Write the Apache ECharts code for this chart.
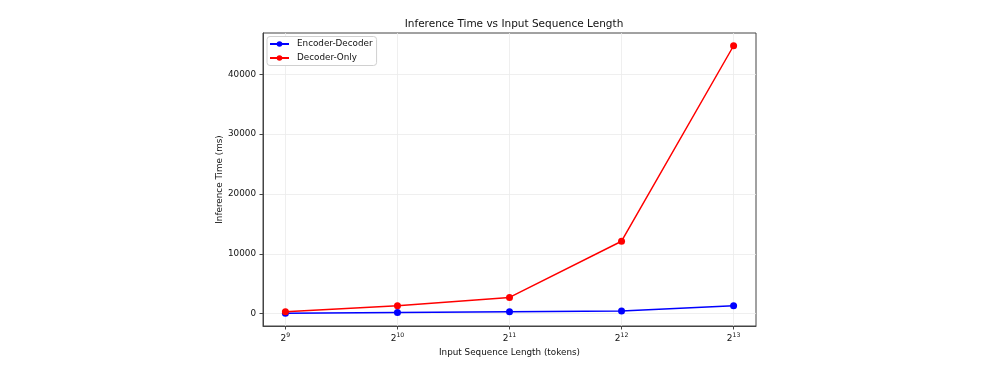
<!DOCTYPE html>
<html>
<head>
<meta charset="utf-8">
<script src="https://cdn.jsdelivr.net/npm/echarts@6/dist/echarts.min.js"></script>
<style>html,body{margin:0;padding:0;background:#fff;}#c{width:1000px;height:372px;}</style>
</head>
<body>
<div id="c"></div>
<script>
const seqLengths = [512, 1024, 2048, 4096, 8192];
const xTickExponents = [9, 10, 11, 12, 13];
const yTicks = [0, 10000, 20000, 30000, 40000];
const encoderDecoder = [100, 220, 335, 450, 1340];
const decoderOnly = [330, 1340, 2730, 12110, 44770];

const font = 'DejaVu Sans';
const chart = echarts.init(document.getElementById('c'), null, {renderer: 'canvas'});
const toPts = arr => arr.map((v, i) => [Math.log2(seqLengths[i]), v]);

chart.setOption({
  animation: false,
  backgroundColor: '#fff',
  textStyle: {fontFamily: font},
  title: {
    text: 'Inference Time vs Input Sequence Length',
    left: 509, top: 14, textAlign: 'center',
    textStyle: {fontFamily: font, fontSize: 10.5, fontWeight: 'normal', color: '#111'}
  },
  legend: {
    left: 267, top: 36.5, orient: 'vertical',
    itemWidth: 19, itemHeight: 7, itemGap: 5,
    padding: [3, 4, 3, 2],
    backgroundColor: '#fff', borderColor: '#d0d0d0', borderWidth: 1, borderRadius: 3,
    textStyle: {fontFamily: font, fontSize: 8.8, color: '#111', padding: [0, 0, 0, 3]},
    data: ['Encoder-Decoder', 'Decoder-Only']
  },
  grid: {left: 263, right: 244, top: 33, bottom: 46, containLabel: false,
         show: true, borderColor: '#444', borderWidth: 1},
  xAxis: {
    type: 'value', min: 8.8, max: 13.2,
    name: 'Input Sequence Length (tokens)', nameLocation: 'middle', nameGap: 21,
    nameTextStyle: {fontFamily: font, fontSize: 8.8, color: '#111'},
    axisLine: {show: true, onZero: false, lineStyle: {color: '#444', width: 1}},
    axisTick: {show: true, length: 3.5, customValues: xTickExponents, lineStyle: {color: '#444'}},
    axisLabel: {
      customValues: xTickExponents, margin: 5,
      formatter: v => '{b|2}{s|' + v + '}',
      rich: {
        b: {fontFamily: font, fontSize: 9, color: '#111', padding: [3, 0, 0, 0]},
        s: {fontFamily: font, fontSize: 6.2, color: '#111', padding: [0, 0, 3, 0]}
      }
    },
    splitLine: {show: true, lineStyle: {color: '#ebebeb', width: 0.8}}
  },
  yAxis: {
    type: 'value', min: -2050, max: 46900,
    name: 'Inference Time (ms)', nameLocation: 'middle', nameGap: 32, nameRotate: 90,
    nameTextStyle: {fontFamily: font, fontSize: 8.8, color: '#111'},
    axisLine: {show: true, onZero: false, lineStyle: {color: '#444', width: 1}},
    axisTick: {show: true, length: 3.5, customValues: yTicks, lineStyle: {color: '#444'}},
    axisLabel: {customValues: yTicks, margin: 7, fontFamily: font, fontSize: 8.8, color: '#111',
                formatter: v => String(v)},
    splitLine: {show: true, lineStyle: {color: '#ebebeb', width: 0.8}}
  },
  series: [
    {
      name: 'Encoder-Decoder', type: 'line', data: toPts(encoderDecoder),
      symbol: 'circle', symbolSize: 7,
      itemStyle: {color: '#0000ff'}, lineStyle: {color: '#0000ff', width: 1.5}, z: 2
    },
    {
      name: 'Decoder-Only', type: 'line', data: toPts(decoderOnly),
      symbol: 'circle', symbolSize: 7,
      itemStyle: {color: '#ff0000'}, lineStyle: {color: '#ff0000', width: 1.5}, z: 3
    }
  ]
});
</script>
</body>
</html>
